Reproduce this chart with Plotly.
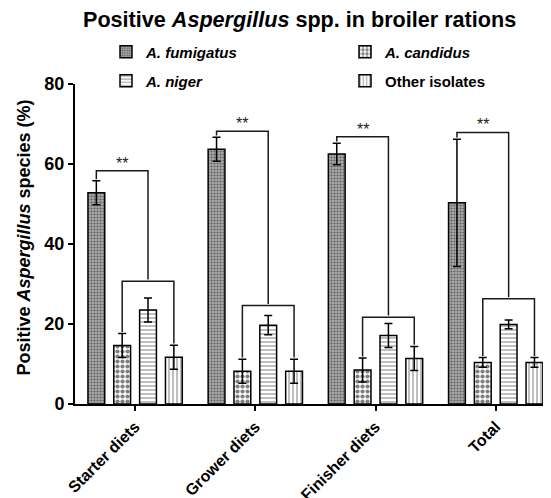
import plotly.graph_objects as go

categories = ["Starter diets", "Grower diets", "Finisher diets", "Total"]
series_names = ["A. fumigatus", "A. candidus", "A. niger", "Other isolates"]
fumigatus = [52.8, 63.7, 62.5, 50.3]
fumigatus_err = [3.0, 3.0, 2.7, 15.9]
candidus = [14.6, 8.2, 8.5, 10.4]
candidus_err = [3.0, 3.0, 3.0, 1.2]
niger = [23.5, 19.7, 17.1, 19.9]
niger_err = [3.0, 2.4, 3.0, 1.1]
other = [11.7, 8.2, 11.4, 10.4]
other_err = [3.0, 3.0, 3.0, 1.2]
upper_bracket = [58.3, 68.2, 66.8, 67.9]
lower_bracket = [30.7, 24.6, 21.7, 26.3]
sig_label = ["**", "**", "**", "**"]
y_ticks = [0, 20, 40, 60, 80]

FONT = "Liberation Sans, Arial, sans-serif"
# the page body adds an 8px offset; figure coordinates = page coordinates - 8
W, H = 543, 490
ML, MT, MB, MR = 67, 76, 94, 0
PW, PH = W - ML - MR, H - MT - MB

values = [fumigatus, candidus, niger, other]
errors = [fumigatus_err, candidus_err, niger_err, other_err]
patterns = [
    dict(shape=".", fgcolor="#111111", bgcolor="#ababab", size=3, solidity=0.4),
    dict(shape=".", fgcolor="black", bgcolor="white", size=5, solidity=0.55),
    dict(shape="-", fgcolor="black", bgcolor="white", size=4, solidity=0.25),
    dict(shape="|", fgcolor="black", bgcolor="white", size=4, solidity=0.25),
]
legend_ids = ["legend", "legend", "legend2", "legend2"]
italic = [True, True, True, False]

xs = list(range(len(categories)))
BARGAP = 0.14
slot = (1 - BARGAP) / 4

fig = go.Figure()
for i in range(4):
    nm = f"<b><i>{series_names[i]}</i></b>" if italic[i] else f"<b>{series_names[i]}</b>"
    fig.add_trace(go.Bar(
        x=xs, y=values[i], name=nm, legend=legend_ids[i],
        marker=dict(color="white", line=dict(color="black", width=1.5), pattern=patterns[i]),
        error_y=dict(type="data", array=errors[i], visible=True, color="black", thickness=1.5, width=4),
    ))

def cx(g, i):
    return g + (i - 1.5) * slot

shapes = []
annotations = []
gap = 0.4
for g in xs:
    top_f = fumigatus[g] + fumigatus_err[g]
    left = cx(g, 0)
    lo_l = cx(g, 1)
    lo_r = cx(g, 3)
    mid = (lo_l + lo_r) / 2
    up = upper_bracket[g]
    lo = lower_bracket[g]
    line = dict(color="#1a1a1a", width=1.5)
    shapes.append(dict(type="path", xref="x", yref="y",
                       path=f"M{left},{top_f + gap} L{left},{up} L{mid},{up} L{mid},{lo + gap}",
                       line=line))
    top_c = candidus[g] + candidus_err[g]
    top_o = other[g] + other_err[g]
    shapes.append(dict(type="path", xref="x", yref="y",
                       path=f"M{lo_l},{top_c + gap} L{lo_l},{lo} L{lo_r},{lo} L{lo_r},{top_o + gap}",
                       line=line))
    annotations.append(dict(x=(left + mid) / 2, y=up, xref="x", yref="y", text=sig_label[g],
                            showarrow=False, yanchor="bottom", yshift=-3,
                            font=dict(family=FONT, size=16, color="#1a1a1a")))

def px_x(p):
    return (p - 8 - ML) / PW

def px_y(p):
    return 1 - (p - 8 - MT) / PH

annotations.append(dict(text="<b>Positive <i>Aspergillus</i> spp. in broiler rations</b>",
                        xref="paper", yref="paper", x=px_x(299), y=px_y(19),
                        xanchor="center", yanchor="middle", showarrow=False,
                        font=dict(family=FONT, size=21.6, color="black")))
annotations.append(dict(text="<b>Positive <i>Aspergillus</i> species (%)</b>",
                        xref="paper", yref="paper", x=px_x(23), y=px_y(237.5),
                        xanchor="center", yanchor="middle", showarrow=False, textangle=-90,
                        font=dict(family=FONT, size=18, color="black")))

fig.update_layout(
    width=W, height=H,
    margin=dict(l=ML, r=MR, t=MT, b=MB, autoexpand=False),
    paper_bgcolor="white", plot_bgcolor="white",
    barmode="group", bargap=BARGAP, bargroupgap=0.35,
    font=dict(family=FONT, color="black"),
    shapes=shapes, annotations=annotations,
    legend=dict(orientation="h", xref="container", yref="container",
                x=98 / W, y=1 - 44 / H, xanchor="left", yanchor="middle",
                entrywidth=194, font=dict(family=FONT, size=15, color="black"),
                bgcolor="rgba(0,0,0,0)"),
    legend2=dict(orientation="h", xref="container", yref="container",
                 x=98 / W, y=1 - 73 / H, xanchor="left", yanchor="middle",
                 entrywidth=194, font=dict(family=FONT, size=15, color="black"),
                 bgcolor="rgba(0,0,0,0)"),
    xaxis=dict(range=[-0.5, 3.46], tickvals=xs, ticktext=[f"<b>{c}</b>" for c in categories],
               tickangle=-45, ticks="outside", ticklen=5, tickwidth=2, tickcolor="black",
               showline=True, linecolor="black", linewidth=2, showgrid=False, zeroline=False,
               automargin=False,
               tickfont=dict(family=FONT, size=16, color="black")),
    yaxis=dict(range=[0, 80], tickvals=y_ticks, ticktext=[f"<b>{t}</b>" for t in y_ticks],
               ticks="outside", ticklen=5, tickwidth=2, tickcolor="black",
               showline=True, linecolor="black", linewidth=2, showgrid=False, zeroline=False,
               automargin=False,
               tickfont=dict(family=FONT, size=18, color="black")),
)

fig.write_html("out.html")
